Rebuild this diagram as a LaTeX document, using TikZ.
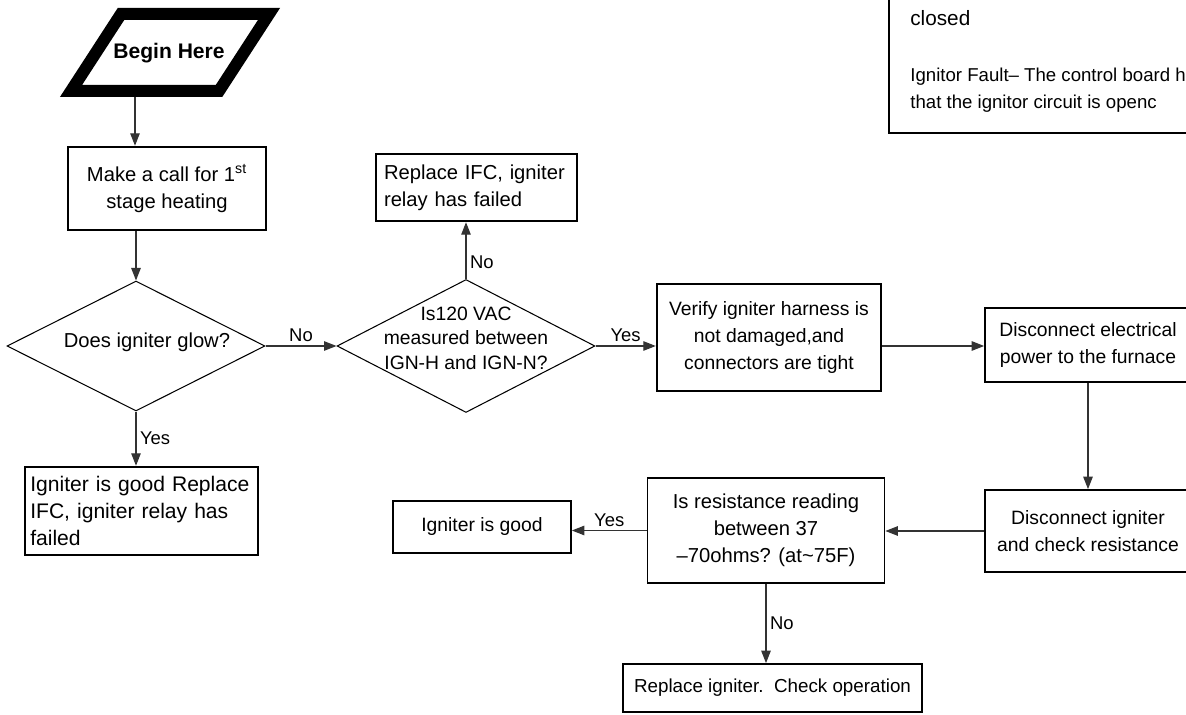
\documentclass[tikz,border=0pt]{standalone}
\usepackage{fontspec}
\setmainfont{Liberation Sans}
\usetikzlibrary{shapes.geometric}
\usetikzlibrary{arrows.meta}
\usetikzlibrary{positioning}

\newcommand{\fsz}[1]{\fontsize{#1}{15.3}\selectfont}

\begin{document}
\begin{tikzpicture}[
    x=0.02cm, y=-0.02cm,
    every node/.style={font=\fsz{11}},
    box/.style={rectangle, draw, line width=1pt, align=center, inner sep=0pt},
    thickbox/.style={box, line width=1.4pt},
    decision/.style={diamond, draw, line width=0.6pt, inner sep=0pt},
    edge label/.style={font=\fsz{10.5}, inner sep=2pt},
    flow/.style={draw=black!80, line width=0.65pt, -{Triangle[length=2.5mm, width=1.9mm]}},
  ]

  \useasboundingbox (0,0) rectangle (1186,715);
  \clip (0,0) rectangle (1186,715);

  % start
  \draw[line width=0.24cm, miter limit=10] (121,14) -- (269,14) -- (219,91) -- (71,91) -- cycle;
  \node[font=\bfseries\fsz{12}] (begin) at (169,53) {Begin Here};
  \coordinate (beginout) at (135,97);

  \node[thickbox, minimum width=3.96cm, minimum height=1.66cm, font=\fsz{11.5}] (call) at (167,188.5) {Make a call for 1\textsuperscript{st}\\stage heating};

  \node[decision, minimum width=5.16cm, minimum height=2.6cm] (q1) at (136,346) {};
  \node[font=\fsz{11.5}] (q1 text) at (147,342) {Does igniter glow?};

  \node[thickbox, minimum width=4.66cm, minimum height=1.76cm, align=left, text width=4.45cm, font=\fsz{12}] (good1) at (141.5,511) {Igniter is good Replace\\IFC, igniter relay has\\failed};

  \node[decision, minimum width=5.16cm, minimum height=2.66cm] (q2) at (466,346) {};
  \node[align=center, font=\fontsize{11}{14}\selectfont] (q2 text) at (466,338) {Is120 VAC\\measured between\\IGN-H and IGN-N?};

  \node[thickbox, minimum width=4.02cm, minimum height=1.34cm, align=left, text width=3.7cm, font=\fsz{11.5}] (ifc) at (476.5,187.5) {Replace IFC, igniter\\relay has failed};

  \node[thickbox, minimum width=4.48cm, minimum height=2.14cm] (verify) at (769,337.5) {Verify igniter harness is\\not damaged,and\\connectors are tight};

  \node[box, minimum width=4.12cm, minimum height=1.48cm] (power) at (1088,345) {Disconnect electrical\\power to the furnace};

  \node[box, minimum width=4.12cm, minimum height=1.64cm] (check) at (1088,531) {Disconnect igniter\\and check resistance};

  \node[box, minimum width=4.74cm, minimum height=2.1cm, font=\fsz{11.5}] (resist) at (766,530.5) {Is resistance reading\\between 37\\–70ohms? (at\textasciitilde75F)};

  \node[box, minimum width=3.56cm, minimum height=1.04cm] (good2) at (482,527) {Igniter is good};

  \node[box, minimum width=5.98cm, minimum height=0.96cm, font=\fsz{10.7}] (replace) at (772.5,688) {Replace igniter.\ \ Check operation};

  % note
  \draw[line width=1.2pt] (889,-10) rectangle (1200,133);
  \node[anchor=base west, inner sep=0pt, font=\fsz{11.8}] (closed) at (910,26) {closed};
  \node[anchor=base west, inner sep=0pt, font=\fsz{10.6}] (fault) at (910,82) {Ignitor Fault– The control board h};
  \node[anchor=base west, inner sep=0pt, font=\fsz{10.6}] (fault2) at (910,109) {that the ignitor circuit is openc};

  % connectors
  \draw[flow] (beginout) -- (beginout |- call.north);
  \draw[flow] (call.south -| q1.north) -- (q1.north);
  \draw[flow] (q1.east) -- node[edge label, above] {No} (q2.west);
  \draw[flow] (q1.south) -- node[edge label, right] {Yes} (q1.south |- good1.north);
  \draw[flow] (q2.north) -- node[edge label, right, pos=0.3] {No} (q2.north |- ifc.south);
  \draw[flow] (q2.east) -- node[edge label, above] {Yes} (q2.east -| verify.west);
  \draw[flow] (q2.east -| verify.east) -- (q2.east -| power.west);
  \draw[flow] (power.south) -- (check.north);
  \draw[flow] (check.west) -- (check.west -| resist.east);
  \draw[flow] (resist.west) -- node[edge label, above] {Yes} (resist.west -| good2.east);
  \draw[flow] (resist.south) -- node[edge label, right] {No} (resist.south |- replace.north);

\end{tikzpicture}
\end{document}
